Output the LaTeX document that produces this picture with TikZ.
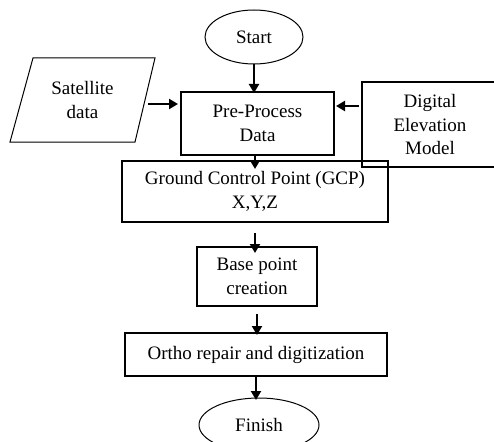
\documentclass[tikz,border=0pt]{standalone}
\usepackage{fontspec}
\setmainfont{Liberation Serif}
\usetikzlibrary{arrows.meta,positioning,shapes.geometric}

\begin{document}
\begin{tikzpicture}[x=1pt,y=-1pt,>=Latex,
    every node/.style={align=center,font=\fontsize{19}{23.5}\selectfont},
    proc/.style={draw,line width=1.5pt,inner sep=0pt,outer sep=0pt},
    term/.style={draw,ellipse,line width=1pt,inner sep=0pt,outer sep=0pt},
    flow/.style={-{Triangle[length=9pt,width=10pt]},line width=2.2pt}]
  \useasboundingbox (0,0) rectangle (494,441);
  \node[term,minimum width=98pt,minimum height=54pt] (start) at (254,37) {Start};
  \node[proc,minimum width=153pt,minimum height=63pt,below=28pt of start,xshift=3.5pt] (pre)
    {Pre-Process\\Data};
  \node[proc,minimum width=266pt,minimum height=61pt,below=6pt of pre,xshift=-2.5pt] (gcp)
    {Ground Control Point (GCP)\\X,Y,Z};
  \node[proc,minimum width=120pt,minimum height=59pt,below=25pt of gcp,xshift=2pt] (base)
    {Base point\\creation};
  \node[proc,minimum width=262pt,minimum height=43pt,below=27pt of base,xshift=-1pt] (ortho)
    {Ortho repair and digitization};
  \node[term,minimum width=120pt,minimum height=54pt,below=22pt of ortho,xshift=3pt] (finish) {Finish};
  % input data, slanted box
  \node[minimum width=145pt,minimum height=84pt,inner sep=0pt,outer sep=0pt] (sat) at (82.5,100)
    {Satellite\\data};
  \draw[line width=1pt] (sat.south west) -- ([xshift=125pt]sat.south west) -- (sat.north east)
    -- ([xshift=23pt]sat.north west) -- cycle;
  \node[proc,line width=1.3pt,minimum width=136pt,minimum height=85pt] (dem) at (430,124.5)
    {Digital\\Elevation\\Model};
  \draw[flow,shorten >=-1pt] (start) -- (start |- pre.north);
  \draw[flow,shorten >=3pt] ([shift={(-7pt,-4pt)}]sat.east) -- ([yshift=-4pt]sat.east -| pre.west);
  \draw[flow,shorten <=3pt,shorten >=2pt] ([yshift=18.5pt]dem.west) -- ([yshift=18.5pt]dem.west -| pre.east);
  \draw[flow,shorten >=-8pt] (gcp.north |- pre.south) -- (gcp.north);
  \draw[flow,shorten <=11pt,shorten >=-6pt] (gcp.south) -- (gcp.south |- base.north);
  \draw[flow,shorten <=8pt,shorten >=-2pt] (base.south) -- (base.south |- ortho.north);
  \draw[flow,shorten >=-2pt] (ortho.south) -- (ortho.south |- finish.north);
\end{tikzpicture}
\end{document}
